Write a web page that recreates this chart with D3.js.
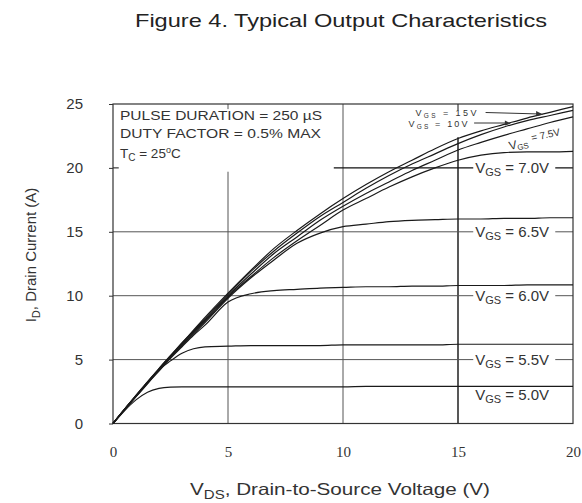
<!DOCTYPE html>
<html>
<head>
<meta charset="utf-8">
<script src="https://cdn.jsdelivr.net/npm/d3@7"></script>
<style>
  body { margin: 0; background: #fff; }
  svg { display: block; }
  text { font-family: 'Liberation Sans', Arial, sans-serif; fill: #333; }
</style>
</head>
<body>
<div id="chart"></div>
<script>
// V_DS sample points (V)
const vds = [0, 0.5, 1, 1.5, 2, 2.5, 3, 3.5, 4, 5, 6, 7, 8, 9, 10, 11, 12, 13, 14, 15, 16, 17, 18, 19, 20];
// I_D (A) per gate voltage
const id15 = [0, 1.1, 2.2, 3.25, 4.3, 5.3, 6.3, 7.3, 8.3, 10.2, 12.0, 13.7, 15.1, 16.4, 17.6, 18.7, 19.7, 20.6, 21.5, 22.3, 22.9, 23.4, 23.9, 24.35, 24.8];
const id10 = [0, 1.1, 2.2, 3.25, 4.3, 5.3, 6.3, 7.25, 8.2, 10.1, 11.9, 13.5, 14.9, 16.2, 17.3, 18.4, 19.4, 20.3, 21.1, 21.9, 22.6, 23.2, 23.7, 24.1, 24.5];
const id75 = [0, 1.1, 2.15, 3.2, 4.25, 5.25, 6.2, 7.2, 8.1, 10.0, 11.7, 13.3, 14.6, 15.9, 17.0, 18.0, 18.9, 19.8, 20.6, 21.4, 22.0, 22.55, 23.05, 23.55, 24.0];
const id70 = [0, 1.1, 2.15, 3.2, 4.2, 5.2, 6.1, 7.1, 8.0, 9.9, 11.5, 13.0, 14.3, 15.5, 16.7, 17.6, 18.5, 19.3, 20.0, 20.6, 21.0, 21.2, 21.25, 21.25, 21.3];
const id65 = [0, 1.1, 2.15, 3.2, 4.2, 5.2, 6.1, 7.0, 7.9, 9.8, 11.4, 12.8, 14.1, 14.9, 15.4, 15.6, 15.8, 15.9, 15.95, 16.0, 16.0, 16.05, 16.05, 16.1, 16.1];
const id60 = [0, 1.1, 2.1, 3.15, 4.1, 5.1, 6.0, 6.9, 7.7, 9.5, 10.15, 10.4, 10.5, 10.6, 10.65, 10.7, 10.7, 10.75, 10.75, 10.8, 10.8, 10.8, 10.85, 10.85, 10.85];
const id55 = [0, 1.05, 2.1, 3.1, 4.2, 4.9, 5.5, 5.85, 6.0, 6.05, 6.1, 6.1, 6.1, 6.1, 6.15, 6.15, 6.15, 6.15, 6.15, 6.2, 6.2, 6.2, 6.2, 6.2, 6.2];
const id50 = [0, 1.0, 1.85, 2.45, 2.75, 2.85, 2.87, 2.87, 2.87, 2.87, 2.87, 2.87, 2.87, 2.87, 2.87, 2.9, 2.9, 2.9, 2.9, 2.9, 2.9, 2.9, 2.9, 2.9, 2.9];
const series = [id15, id10, id75, id70, id65, id60, id55, id50];

const xTicks = [0, 5, 10, 15, 20];
const yTicks = [0, 5, 10, 15, 20, 25];

const W = 582, H = 503;
const margin = { top: 104, right: 9, bottom: 79.5, left: 113 };
const width = W - margin.left - margin.right;
const height = H - margin.top - margin.bottom;

const svg = d3.select('#chart').append('svg')
  .attr('width', W)
  .attr('height', H);

svg.append('text')
  .attr('x', 341)
  .attr('y', 27)
  .attr('text-anchor', 'middle')
  .attr('textLength', 412)
  .attr('lengthAdjust', 'spacingAndGlyphs')
  .style('font-size', '19px')
  .style('fill', '#222')
  .text('Figure 4. Typical Output Characteristics');

const g = svg.append('g')
  .attr('transform', 'translate(' + margin.left + ',' + margin.top + ')');

const x = d3.scaleLinear().domain([0, 20]).range([0, width]);
const y = d3.scaleLinear().domain([0, 25]).range([height, 0]);

// grid (pieces follow the original: some lines stop short of the note box)
const grid = g.append('g').attr('fill', 'none');
grid.append('line')
  .attr('x1', x(5)).attr('x2', x(5)).attr('y1', y(19.7)).attr('y2', y(0))
  .attr('stroke', '#555');
grid.append('line')
  .attr('x1', x(5)).attr('x2', x(5)).attr('y1', y(25)).attr('y2', y(24.6))
  .attr('stroke', '#555');
grid.append('line')
  .attr('x1', x(10)).attr('x2', x(10)).attr('y1', y(25)).attr('y2', y(0))
  .attr('stroke', '#555');
grid.append('line')
  .attr('x1', x(15)).attr('x2', x(15)).attr('y1', y(22.4)).attr('y2', y(0))
  .attr('stroke', '#111').attr('stroke-width', 1.4);
grid.append('line')
  .attr('x1', x(15)).attr('x2', x(15)).attr('y1', y(25)).attr('y2', y(24.5))
  .attr('stroke', '#111');
grid.append('line')
  .attr('x1', x(9.6)).attr('x2', x(20)).attr('y1', y(20)).attr('y2', y(20))
  .attr('stroke', '#111').attr('stroke-width', 1.4);
grid.append('line')
  .attr('x1', x(0)).attr('x2', x(0.25)).attr('y1', y(20)).attr('y2', y(20))
  .attr('stroke', '#111');
[5, 10, 15].forEach(v => {
  grid.append('line')
    .attr('x1', x(0)).attr('x2', x(20)).attr('y1', y(v)).attr('y2', y(v))
    .attr('stroke', '#555');
});

// frame
g.append('rect')
  .attr('width', width).attr('height', height)
  .attr('fill', 'none').attr('stroke', '#333').attr('stroke-width', 1.2);

// axes
const yAxis = g.append('g')
  .call(d3.axisLeft(y).tickValues(yTicks).tickSize(4).tickPadding(26));
yAxis.select('.domain').remove();
yAxis.selectAll('.tick line').attr('stroke', '#333');
yAxis.selectAll('.tick text')
  .style('font-family', "'Liberation Sans', Arial, sans-serif")
  .style('font-size', '15px').attr('fill', '#333');

const xAxis = g.append('g')
  .attr('transform', 'translate(0,' + height + ')')
  .call(d3.axisBottom(x).tickValues(xTicks).tickSize(0).tickPadding(23));
xAxis.select('.domain').remove();
xAxis.selectAll('.tick text')
  .style('font-family', "'Liberation Serif', 'Times New Roman', serif")
  .style('font-size', '15px').attr('fill', '#333');

// note box
const note = g.append('g').style('font-size', '13.5px').attr('fill', '#333');
note.append('text').attr('x', 7).attr('y', 16)
  .attr('textLength', 202).attr('lengthAdjust', 'spacingAndGlyphs')
  .text('PULSE DURATION = 250 \u00b5S');
note.append('text').attr('x', 7).attr('y', 34)
  .attr('textLength', 201).attr('lengthAdjust', 'spacingAndGlyphs')
  .text('DUTY FACTOR = 0.5% MAX');
const tc = note.append('text').attr('x', 7).attr('y', 54);
tc.append('tspan').text('T');
tc.append('tspan').attr('dy', 3).style('font-size', '10px').text('C');
tc.append('tspan').attr('dy', -3).text(' = 25');
tc.append('tspan').attr('dy', -5).style('font-size', '9px').text('o');
tc.append('tspan').attr('dy', 5).text('C');

// labels on the right, white backing cuts the grid lines
const bigLabels = [
  { t: '7.0V', v: 20 },
  { t: '6.5V', v: 15 },
  { t: '6.0V', v: 10 },
  { t: '5.5V', v: 5 },
  { t: '5.0V', v: 2.2 }
];
bigLabels.forEach(d => {
  const lg = g.append('g').attr('transform', 'translate(' + x(15.75) + ',' + y(d.v) + ')');
  lg.append('rect').attr('x', -2).attr('y', -9).attr('width', 82).attr('height', 18).attr('fill', '#fff');
  const t = lg.append('text').attr('y', 5).style('font-size', '15px').attr('fill', '#444');
  t.append('tspan').text('V');
  t.append('tspan').attr('dy', 3).style('font-size', '11px').text('GS');
  t.append('tspan').attr('dy', -3).text(' = ' + d.t);
});

// curves
const line = d3.line()
  .x((d, i) => x(vds[i]))
  .y(d => y(d))
  .curve(d3.curveMonotoneX);

g.append('g').selectAll('path')
  .data(series)
  .enter()
  .append('path')
  .attr('d', d => line(d))
  .attr('fill', 'none')
  .attr('stroke', '#1a1a1a')
  .attr('stroke-width', 1.2);

// small labels for the top curves
const small = g.append('g').style('font-size', '9px').attr('fill', '#444');
const s15 = small.append('text').attr('x', x(13.15)).attr('y', 12)
  .attr('textLength', 61).attr('lengthAdjust', 'spacing');
s15.append('tspan').text('V');
s15.append('tspan').attr('dy', 2).style('font-size', '6.5px').text('GS');
s15.append('tspan').attr('dy', -2).text('\u00a0=\u00a015V');
const s10 = small.append('text').attr('x', x(12.85)).attr('y', 23)
  .attr('textLength', 59).attr('lengthAdjust', 'spacing');
s10.append('tspan').text('V');
s10.append('tspan').attr('dy', 2).style('font-size', '6.5px').text('GS');
s10.append('tspan').attr('dy', -2).text('\u00a0=\u00a010V');
g.append('line').attr('x1', x(16.2)).attr('x2', x(18.6)).attr('y1', 8.5).attr('y2', 10)
  .attr('stroke', '#333');
g.append('path').attr('d', 'M' + x(18.7) + ',10.5 l-7,-3.5 l0,5 z').attr('fill', '#333');
g.append('line').attr('x1', x(15.7)).attr('x2', x(17.1)).attr('y1', 19).attr('y2', 19)
  .attr('stroke', '#333');
g.append('path').attr('d', 'M' + x(17.3) + ',19.5 l-6,-3 l0,5 z').attr('fill', '#333');

const s75 = g.append('text')
  .attr('transform', 'translate(' + x(17.25) + ',' + 46 + ') rotate(-12)')
  .attr('fill', '#444');
s75.append('tspan').style('font-size', '12px').text('V');
s75.append('tspan').attr('dy', 2).style('font-size', '8px').text('GS');
s75.append('tspan').attr('dx', 4).attr('dy', -6).style('font-size', '10px').text('= 7.5V');

// axis titles
const xt = svg.append('text')
  .attr('x', 190).attr('y', 495)
  .attr('textLength', 300).attr('lengthAdjust', 'spacingAndGlyphs')
  .style('font-size', '16.5px').attr('fill', '#333');
xt.append('tspan').text('V');
xt.append('tspan').attr('dy', 4).style('font-size', '12px').text('DS');
xt.append('tspan').attr('dy', -4).text(', Drain-to-Source Voltage (V)');

const yt = svg.append('text')
  .attr('transform', 'translate(36,255) rotate(-90)')
  .attr('text-anchor', 'middle')
  .style('font-size', '15px').attr('fill', '#333');
yt.append('tspan').text('I');
yt.append('tspan').attr('dy', 4).style('font-size', '11px').text('D');
yt.append('tspan').attr('dy', -4).text(', Drain Current (A)');
</script>
</body>
</html>
